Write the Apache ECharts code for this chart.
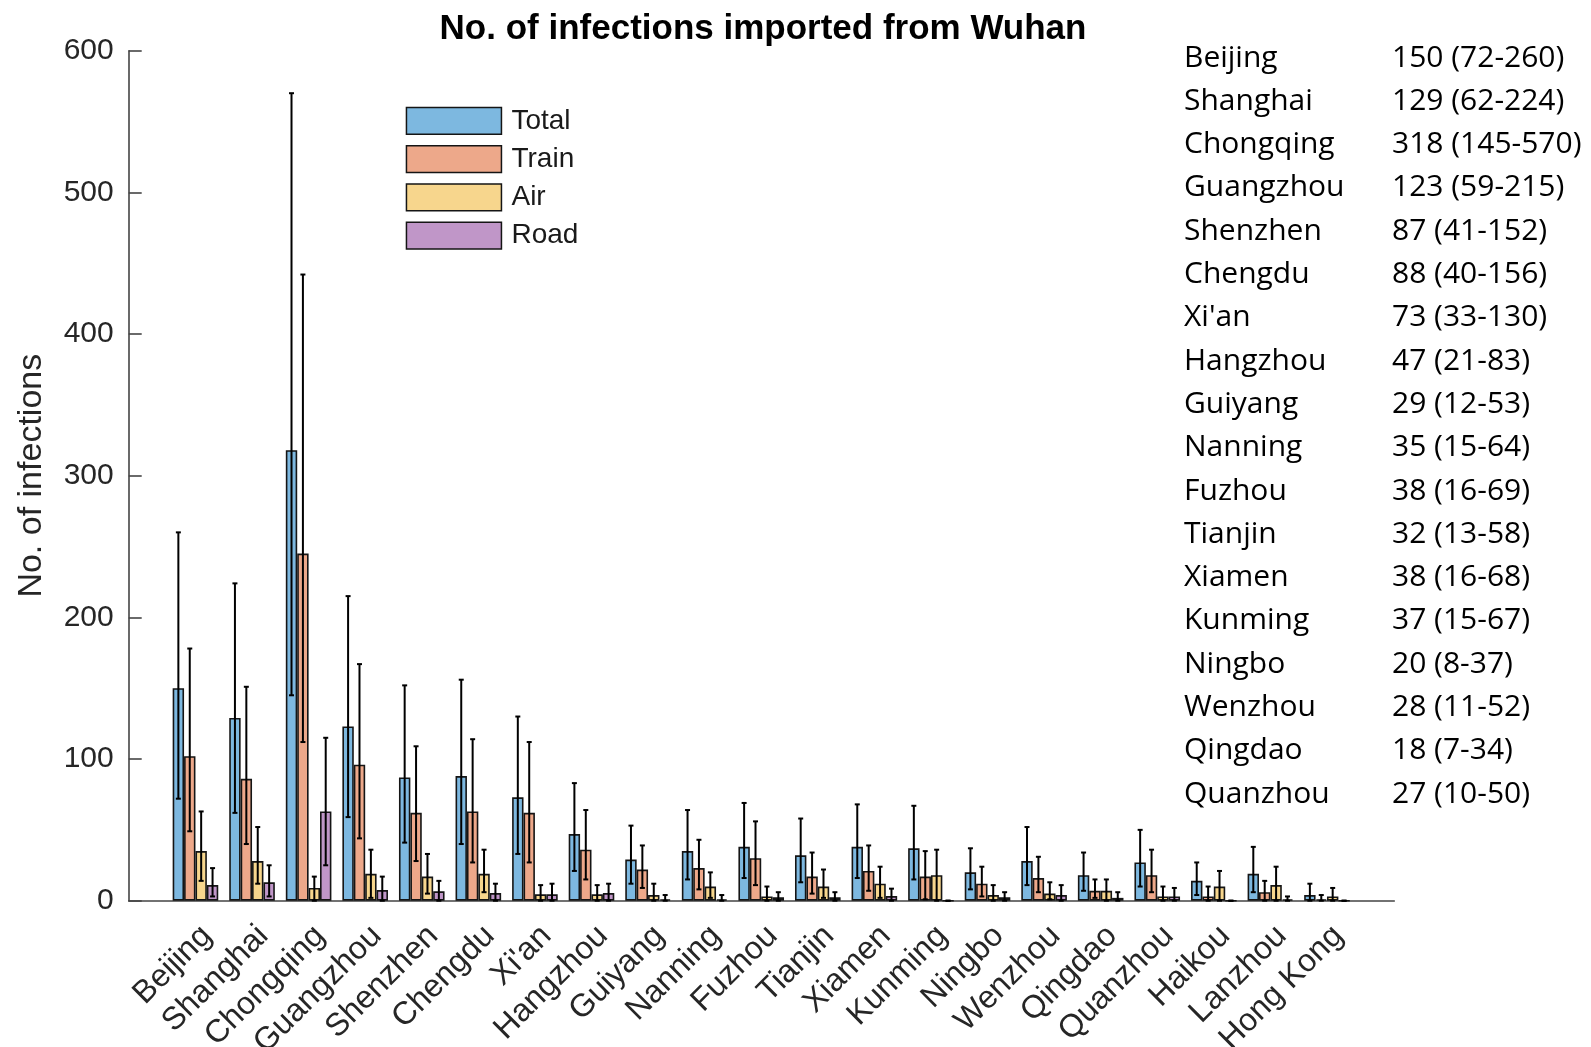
<!DOCTYPE html>
<html>
<head>
<meta charset="utf-8">
<script src="https://cdn.jsdelivr.net/npm/echarts@6/dist/echarts.min.js"></script>
<style>
html,body{margin:0;padding:0;background:#fff;}
#c{width:1591px;height:1047px;}
</style>
</head>
<body>
<div id="c"></div>
<script>
// ---------- DATA ----------
const cities = ['Beijing','Shanghai','Chongqing','Guangzhou','Shenzhen','Chengdu',"Xi'an",'Hangzhou','Guiyang','Nanning','Fuzhou','Tianjin','Xiamen','Kunming','Ningbo','Wenzhou','Qingdao','Quanzhou','Haikou','Lanzhou','Hong Kong'];

const totalVal = [150,129,318,123,87,88,73,47,29,35,38,32,38,37,20,28,18,27,14,19,4];
const totalLo  = [72,62,145,59,41,40,33,21,12,15,16,13,16,15,8,11,7,10,4,6,0];
const totalHi  = [260,224,570,215,152,156,130,83,53,64,69,58,68,67,37,52,34,50,27,38,12];

const trainVal = [102,86,245,96,62,63,62,36,22,23,30,17,21,17,12,16,7,18,3,6,1];
const trainLo  = [49,40,112,44,28,27,27,15,9,8,11,5,7,1,3,6,2,6,0,0,0];
const trainHi  = [178,151,442,167,109,114,112,64,39,43,56,34,39,35,24,31,15,36,10,14,4];

const airVal = [35,28,9,19,17,19,4.5,4.5,4,10,3,10,12,18,4,5,7,3,10,11,3];
const airLo  = [14,12,0,2,5,6,0,0,0,2,0,2,2,0,0,1,0,0,0,0,0];
const airHi  = [63,52,17,36,33,36,11,11,12,20,10,22,24,36,11,13,15,10,21,24,9];

const roadVal = [11,13,63,7.5,6.6,5.4,4.5,5.4,1,1,2.4,2.4,3.3,0,2.4,4,2,3,0,1,0];
const roadLo  = [3,3,25,0,0,0,0,0,0,0,0,0,0,0,0,0,0,0,0,0,0];
const roadHi  = [23,25,115,17,14,12,12,12,4,4,6,6,8.5,0,6,11,6,9,0,3,0];

const seriesNames = ['Total','Train','Air','Road'];
const yTicks = {min: 0, max: 600, step: 100};

// Table on the right (first 18 cities)
const tableCount = 18;

// ---------- STYLE ----------
const colors = ['#7DB8E0','#EDA88A','#F7D68D','#C096C8'];
const BAR_W = 11.4;
const AXIS_FONT = 'Liberation Sans';
const axisColor = '#444444';
const textColor = '#262626';

const vals = [totalVal, trainVal, airVal, roadVal];
const los = [totalLo, trainLo, airLo, roadLo];
const his = [totalHi, trainHi, airHi, roadHi];

const series = [];
seriesNames.forEach((name, k) => {
  series.push({
    name: name,
    type: 'bar',
    barWidth: BAR_W,
    barGap: '0%',
    data: cities.map((c, i) => [i + 1, vals[k][i]]),
    itemStyle: {color: colors[k], borderColor: '#151515', borderWidth: 1.6},
    z: 2
  });
});
seriesNames.forEach((name, k) => {
  series.push({
    name: name + ' CI',
    type: 'custom',
    data: cities.map((c, i) => [i + 1, los[k][i], his[k][i]]),
    encode: {x: 0, y: [1, 2]},
    z: 5,
    renderItem: function (params, api) {
      const x = api.value(0);
      const p1 = api.coord([x, api.value(1)]);
      const p2 = api.coord([x, api.value(2)]);
      const cx = p1[0] + (k - 1.5) * BAR_W;
      const cap = 2.5;
      const st = {stroke: '#000', lineWidth: 2};
      return {
        type: 'group',
        children: [
          {type: 'line', shape: {x1: cx, y1: p1[1], x2: cx, y2: p2[1]}, style: st},
          {type: 'line', shape: {x1: cx - cap, y1: p1[1], x2: cx + cap, y2: p1[1]}, style: st},
          {type: 'line', shape: {x1: cx - cap, y1: p2[1], x2: cx + cap, y2: p2[1]}, style: st}
        ]
      };
    }
  });
});

const graphics = [];
for (let i = 0; i < tableCount; i++) {
  const txt = totalVal[i] + ' (' + totalLo[i] + '-' + totalHi[i] + ')';
  graphics.push({type: 'text', x: 1184, y: 58 + i * 43.3,
    style: {text: cities[i], fontSize: 30, fontFamily: 'Open Sans', fill: '#000', verticalAlign: 'middle', align: 'left'}});
  graphics.push({type: 'text', x: 1392, y: 58 + i * 43.3,
    style: {text: txt, fontSize: 30, fontFamily: 'Open Sans', fill: '#000', verticalAlign: 'middle', align: 'left'}});
}

const chart = echarts.init(document.getElementById('c'), null, {renderer: 'canvas'});
chart.setOption({
  animation: false,
  backgroundColor: '#fff',
  title: {
    text: 'No. of infections imported from Wuhan',
    left: 758, top: 7, textAlign: 'center',
    textStyle: {fontSize: 35, fontWeight: 'bold', fontFamily: AXIS_FONT, color: '#000'}
  },
  legend: {
    orient: 'vertical', left: 405.7, top: 106.7, padding: 0,
    itemWidth: 95, itemHeight: 26.7, itemGap: 10.1, icon: 'rect',
    data: seriesNames,
    itemStyle: {borderColor: '#151515', borderWidth: 1.5},
    textStyle: {fontSize: 28, fontFamily: AXIS_FONT, color: '#1a1a1a', lineHeight: 27, padding: [0, 0, 0, 5]}
  },
  grid: {left: 128.7, right: 196.7, top: 50.7, bottom: 146.3, containLabel: false, outerBoundsMode: 'none'},
  xAxis: {
    type: 'value', min: -0.18, max: 22.19,
    axisLine: {show: true, onZero: false, lineStyle: {color: axisColor, width: 1.6}},
    axisTick: {show: false},
    splitLine: {show: false},
    axisLabel: {
      customValues: cities.map((c, i) => i + 1),
      rotate: 45, align: 'right', verticalAlign: 'top', margin: 19,
      fontSize: 32, fontFamily: AXIS_FONT, color: textColor,
      formatter: v => cities[Math.round(v) - 1]
    }
  },
  yAxis: {
    type: 'value', min: yTicks.min, max: yTicks.max, interval: yTicks.step,
    axisLine: {show: true, onZero: false, lineStyle: {color: axisColor, width: 1.6}},
    axisTick: {show: true, inside: true, length: 13, lineStyle: {color: axisColor, width: 1.6}},
    splitLine: {show: false},
    axisLabel: {fontSize: 30, fontFamily: AXIS_FONT, color: textColor, margin: 15},
    name: 'No. of infections', nameLocation: 'middle', nameGap: 80,
    nameTextStyle: {fontSize: 34, fontFamily: AXIS_FONT, color: textColor}
  },
  graphic: graphics,
  series: series
});
</script>
</body>
</html>
